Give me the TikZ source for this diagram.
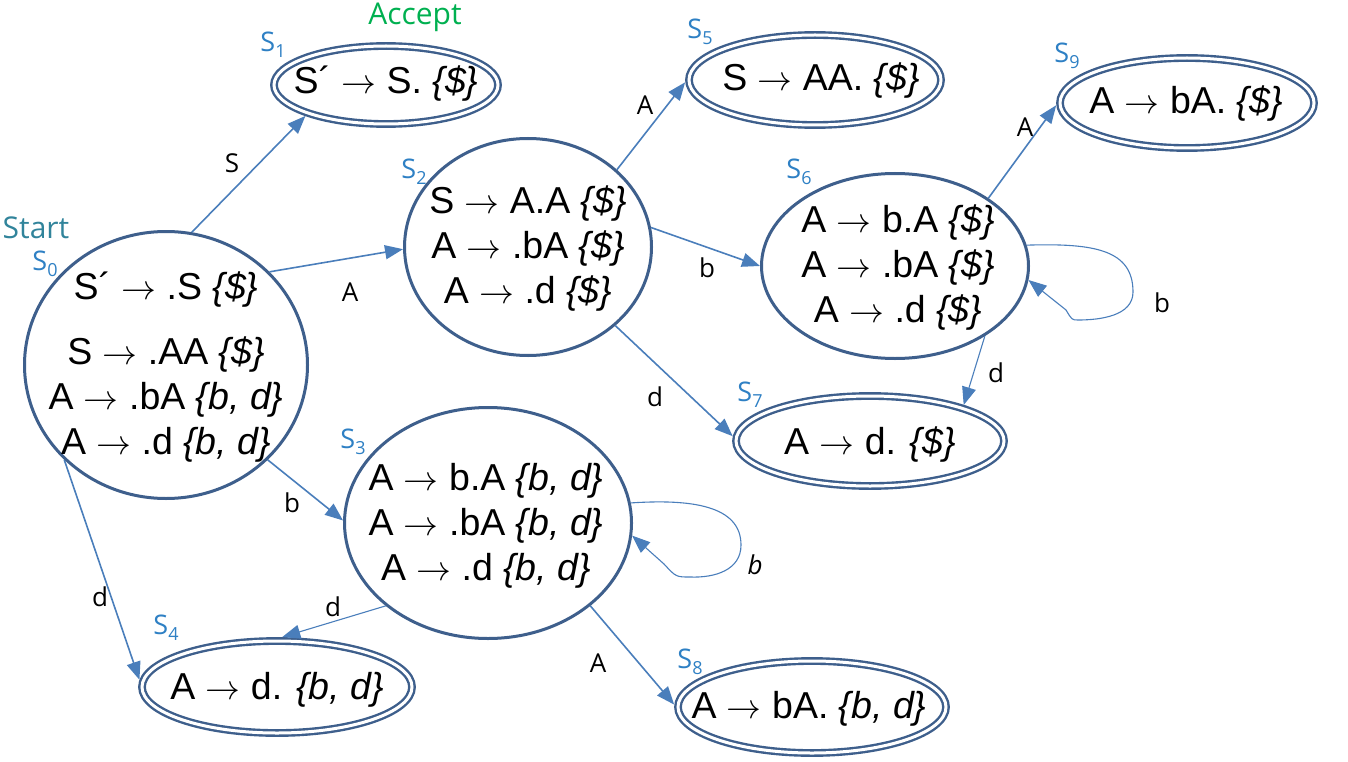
\documentclass[tikz,border=0pt]{standalone}
\usepackage{graphicx}
\usepackage{fontspec}
\setmainfont{Liberation Sans}
\newfontfamily\lblfont{Open Sans}
\usetikzlibrary{shapes.geometric,arrows.meta}
\definecolor{nodeblue}{RGB}{62,95,140}
\definecolor{edgeblue}{RGB}{74,126,187}
\definecolor{labblue}{RGB}{46,128,196}
\definecolor{startcol}{RGB}{49,132,155}
\definecolor{acceptcol}{RGB}{0,176,80}
\newcommand\stname[1]{S\raisebox{-6pt}{\fontsize{18}{18}\selectfont #1}}
\newcommand\la{\ {\fontsize{24.88}{24.88}\selectfont\scalebox{1.4}{$\rightarrow$}}\ }
\newcommand\dol{\textit{\{\$\}}}
\newcommand\bd{\textit{\{b, d\}}}
\begin{document}
\begin{tikzpicture}[x=1pt,y=-1pt,
  single/.style={ellipse, draw=nodeblue, line width=3pt, fill=white, inner sep=0pt},
  dbl/.style={ellipse, draw=nodeblue, line width=2.4pt, double=white, double distance=3pt, inner sep=0pt, outer sep=4pt},
  stxt/.style={font=\fontsize{37.5}{45}\selectfont, align=center, inner sep=0pt},
  slab/.style={font=\lblfont\fontsize{27}{27}\selectfont, text=labblue, inner sep=0pt},
  elab/.style={font=\lblfont\fontsize{26}{26}\selectfont, inner sep=0pt},
  trans/.style={draw=edgeblue, line width=1.6pt, -{Triangle[length=18pt,width=14pt]}},
  thintrans/.style={trans, line width=1.1pt},
  ]
\useasboundingbox (0,0) rectangle (1348,762);

% states
\node[single, minimum width=283pt, minimum height=267pt] (s0) at (166,365) {};
\node[dbl, minimum width=224pt, minimum height=78pt] (s1) at (386,85) {};
\node[single, minimum width=247pt, minimum height=217pt] (s2) at (528,247) {};
\node[single, minimum width=287pt, minimum height=231pt] (s3) at (488,523) {};
\node[dbl, minimum width=270pt, minimum height=92pt] (s4) at (277,687) {};
\node[dbl, minimum width=252pt, minimum height=90pt] (s5) at (815,80) {};
\node[single, minimum width=267pt, minimum height=185pt] (s6) at (895,266) {};
\node[dbl, minimum width=268pt, minimum height=90pt] (s7) at (870,441) {};
\node[dbl, minimum width=268pt, minimum height=92pt] (s8) at (812,707) {};
\node[dbl, minimum width=254pt, minimum height=90pt] (s9) at (1187,103) {};

% state texts
\node[stxt] (t0) at (166,367) {S´\la.S \dol\\[20pt] S\la.AA \dol\\ A\la.bA \bd\\ A\la.d \bd};
\node[stxt] (t1) at (386,84) {S´\la S. \dol};
\node[stxt] (t2) at (528,249) {S\la A.A \dol\\ A\la.bA \dol\\ A\la.d \dol};
\node[stxt] (t3) at (486,526) {A\la b.A \bd\\ A\la.bA \bd\\ A\la.d \bd};
\node[stxt] (t4) at (277,690) {A\la d. \bd};
\node[stxt] (t5) at (821,81) {S\la AA. \dol};
\node[stxt] (t6) at (898,268) {A\la b.A \dol\\ A\la.bA \dol\\ A\la.d \dol};
\node[stxt] (t7) at (870,445) {A\la d. \dol};
\node[stxt] (t8) at (809,709) {A\la bA. \bd};
\node[stxt] (t9) at (1186,104) {A\la bA. \dol};

% state names
\node[slab] (n0) at (45,264) {\stname{0}};
\node[slab] (n1) at (273,45) {\stname{1}};
\node[slab] (n2) at (414,172) {\stname{2}};
\node[slab] (n3) at (353,442) {\stname{3}};
\node[slab] (n4) at (166,628) {\stname{4}};
\node[slab] (n5) at (700,32) {\stname{5}};
\node[slab] (n6) at (799,172) {\stname{6}};
\node[slab] (n7) at (750,395) {\stname{7}};
\node[slab] (n8) at (690,662) {\stname{8}};
\node[slab] (n9) at (1067,56) {\stname{9}};
\node[font=\lblfont\fontsize{30}{30}\selectfont, text=startcol, inner sep=0pt] (start) at (36,228) {Start};
\node[font=\lblfont\fontsize{30}{30}\selectfont, text=acceptcol, inner sep=0pt] (accept) at (415,17) {Accept};

% transitions
\draw[trans] (s0.79.8) -- (s1.201);
\draw[trans] (s0.42.5) -- (s2.181.4);
\draw[trans] (s0.-43) -- (s3.179.6);
\draw[trans] (s0.223) -- (s4.177);
\draw[trans] (s2.41.3) -- (s5.181.3);
\draw[trans] (s2.9) -- (s6.180.4);
\draw[trans] (s2.-42) -- (s7.178.3);
\draw[trans] (s6.36) -- (s9.181.8);
\draw[thintrans] (s6.-38) -- (s7.21.4);
\draw[thintrans] (s3.219) -- (s4.84);
\draw[trans] (s3.-39.8) -- (s8.179);
\draw[thintrans] (s6.9) .. controls (1095,243) and (1133,250) .. (1133,292) .. controls (1133,316) and (1100,320) .. (1078,320) .. controls (1072,320) .. (1066,310) -- (s6.-6);
\draw[thintrans] (s3.8.3) .. controls (690,499) and (741,505) .. (741,545) .. controls (741,570) and (715,578) .. (690,577) .. controls (676,577) .. (664,564) -- (s3.-5.5);

% transition labels
\node[elab] (l01) at (232,163) {S};
\node[elab] (l02) at (350,292) {A};
\node[elab] (l03) at (292,503) {b};
\node[elab] (l04) at (100,597) {d};
\node[elab] (l25) at (645,105) {A};
\node[elab] (l26) at (707,268) {b};
\node[elab] (l27) at (655,397) {d};
\node[elab] (l69) at (1025,127) {A};
\node[elab] (l66) at (1162,303) {b};
\node[elab] (l67) at (996,373) {d};
\node[elab] (l33) at (755,565) {\textit{b}};
\node[elab] (l34) at (333,607) {d};
\node[elab] (l38) at (598,663) {A};
\end{tikzpicture}
\end{document}
